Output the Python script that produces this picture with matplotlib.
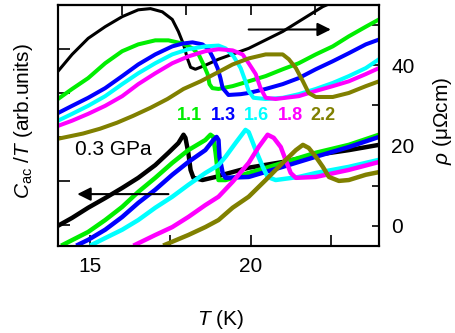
import numpy as np
import matplotlib
matplotlib.use("Agg")
import matplotlib.pyplot as plt

plt.rcParams['font.family'] = ['Liberation Sans', 'DejaVu Sans']
plt.rcParams['mathtext.fontset'] = 'custom'
plt.rcParams['mathtext.rm'] = 'Liberation Sans'
plt.rcParams['mathtext.it'] = 'Liberation Sans:italic'

# pressures (GPa) and colours
pressures = ['0.3', '1.1', '1.3', '1.6', '1.8', '2.2']
colors = ['black', '#00ee00', '#0000ff', '#00ffff', '#ff00ff', '#808000']

# resistivity rho(T) in uOhm cm (right axis)
t_rho_03 = [14.0, 14.44, 14.94, 15.47, 16.0, 16.5, 16.88, 17.25, 17.56, 17.75, 17.91, 18.03, 18.13,
            18.28, 18.59, 19.0, 19.94, 21.0, 22.25, 22.8]
rho_03 = [38.5, 42.7, 46.7, 49.6, 52.1, 53.8, 54.1, 53.3, 51.4, 48.4, 45.2, 41.7, 39.5,
          39.0, 40.0, 41.5, 44.2, 48.4, 54.6, 56.5]
t_rho_11 = [14.0, 14.44, 14.94, 15.47, 16.0, 16.5, 17.03, 17.44, 17.88, 18.19, 18.38, 18.53, 18.66,
            18.72, 18.81, 19.0, 19.44, 19.94, 20.47, 21.0, 21.5, 22.03, 22.56, 23.06, 23.59, 24.0]
rho_11 = [31.6, 34.1, 36.8, 40.5, 43.5, 45.2, 46.2, 46.2, 45.4, 44.2, 42.7, 40.2, 37.8,
          35.3, 34.3, 34.1, 34.8, 36.0, 37.3, 39.0, 40.5, 42.7, 44.7, 47.2, 49.6, 51.4]
t_rho_13 = [14.0, 14.44, 14.94, 15.47, 16.0, 16.5, 17.03, 17.56, 17.88, 18.19, 18.5, 18.69, 18.84,
            18.97, 19.06, 19.13, 19.31, 19.69, 19.94, 20.47, 21.0, 21.5, 22.03, 22.56, 23.06, 23.59, 24.0]
rho_13 = [28.1, 29.9, 31.9, 34.3, 37.3, 40.2, 42.7, 44.7, 45.4, 45.7, 45.2, 44.0, 41.7,
          39.3, 36.8, 34.3, 32.6, 32.8, 33.1, 34.1, 35.3, 36.8, 39.0, 41.0, 43.0, 45.2, 46.4]
t_rho_16 = [14.0, 14.44, 14.94, 15.47, 16.0, 16.5, 17.03, 17.56, 18.06, 18.59, 19.0, 19.22, 19.47,
            19.69, 19.84, 19.94, 20.09, 20.47, 21.0, 21.5, 22.03, 22.56, 23.06, 23.59, 24.0]
rho_16 = [26.2, 27.9, 29.9, 32.3, 35.3, 38.0, 40.5, 42.7, 44.0, 44.7, 44.9, 44.2, 42.2,
          39.3, 36.0, 33.6, 31.9, 31.6, 31.9, 32.8, 34.1, 35.6, 37.3, 39.3, 41.5]
t_rho_18 = [14.0, 14.44, 14.94, 15.47, 16.0, 16.5, 17.03, 17.56, 18.06, 18.59, 19.0, 19.44, 19.75,
            19.94, 20.16, 20.31, 20.47, 20.78, 21.5, 22.03, 22.56, 23.06, 23.59, 24.0]
rho_18 = [24.9, 26.2, 27.9, 29.9, 32.3, 35.3, 38.0, 40.5, 42.2, 43.5, 44.0, 43.7, 42.7,
          40.5, 37.8, 34.3, 31.9, 31.6, 32.3, 33.6, 34.8, 36.0, 37.8, 39.3]
t_rho_22 = [14.0, 14.78, 15.31, 15.84, 16.34, 16.88, 17.41, 17.91, 18.44, 18.97, 19.44, 19.94, 20.47,
            21.0, 21.19, 21.41, 21.63, 21.81, 22.03, 22.56, 23.06, 23.59, 24.0]
rho_22 = [21.7, 23.0, 24.2, 25.7, 27.4, 29.4, 31.6, 34.1, 36.0, 38.2, 40.2, 41.7, 42.7,
          42.7, 41.5, 39.3, 36.0, 33.1, 32.1, 32.1, 33.1, 34.8, 36.0]

# ac specific heat C_ac/T (arb. units, left axis)
t_c_03 = [14.0, 14.44, 14.94, 15.47, 16.0, 16.5, 17.03, 17.44, 17.75, 17.91, 17.97, 18.06, 18.13,
          18.22, 18.5, 18.91, 19.13, 19.94, 21.0, 22.03, 23.06, 24.0]
c_03 = [-0.02, 0.16, 0.39, 0.61, 0.84, 1.07, 1.36, 1.64, 1.86, 2.05, 1.98, 1.64, 1.25,
        1.07, 1.02, 1.09, 1.14, 1.30, 1.43, 1.59, 1.70, 1.82]
t_c_11 = [14.16, 14.94, 15.47, 16.0, 16.5, 17.03, 17.56, 18.06, 18.59, 18.75, 18.84, 18.91, 18.97,
          19.0, 19.22, 19.94, 21.0, 22.03, 23.06, 24.0]
c_11 = [-0.45, -0.16, 0.11, 0.41, 0.75, 1.07, 1.41, 1.70, 1.93, 2.05, 2.0, 1.64, 1.25,
        1.02, 1.02, 1.18, 1.41, 1.64, 1.82, 2.05]
t_c_13 = [14.63, 14.94, 15.47, 16.0, 16.5, 17.03, 17.56, 18.06, 18.59, 18.84, 18.94, 19.0, 19.03,
          19.13, 19.22, 19.94, 21.0, 22.03, 23.06, 24.0]
c_13 = [-0.45, -0.34, -0.11, 0.18, 0.5, 0.8, 1.14, 1.43, 1.70, 1.93, 2.0, 1.93, 1.55,
        1.18, 1.07, 1.09, 1.32, 1.55, 1.77, 2.0]
t_c_16 = [15.06, 15.47, 16.0, 16.5, 17.03, 17.56, 18.06, 18.59, 19.0, 19.22, 19.53, 19.84, 19.94,
          20.16, 20.38, 20.53, 20.78, 21.5, 22.03, 23.06, 24.0]
c_16 = [-0.45, -0.30, -0.11, 0.11, 0.39, 0.64, 0.91, 1.18, 1.36, 1.55, 1.86, 2.16, 2.11,
        1.70, 1.32, 1.09, 1.02, 1.09, 1.18, 1.32, 1.48]
t_c_18 = [16.41, 17.03, 17.56, 18.06, 18.59, 19.0, 19.44, 19.94, 20.25, 20.53, 20.72, 20.94, 21.09,
          21.25, 21.41, 22.03, 23.06, 24.0]
c_18 = [-0.45, -0.23, -0.05, 0.18, 0.45, 0.64, 0.98, 1.41, 1.77, 2.05, 1.98, 1.77, 1.48,
        1.18, 1.07, 1.09, 1.25, 1.43]
t_c_22 = [17.34, 18.06, 18.59, 19.0, 19.44, 19.94, 20.47, 21.0, 21.41, 21.63, 21.81, 22.03, 22.25,
          22.44, 22.75, 23.06, 23.59, 24.0]
c_22 = [-0.45, -0.23, -0.05, 0.11, 0.39, 0.64, 1.02, 1.41, 1.70, 1.82, 1.75, 1.55, 1.32,
        1.09, 1.0, 1.02, 1.14, 1.20]

rho_sets = [(t_rho_03, rho_03), (t_rho_11, rho_11), (t_rho_13, rho_13),
            (t_rho_16, rho_16), (t_rho_18, rho_18), (t_rho_22, rho_22)]
c_sets = [(t_c_03, c_03), (t_c_11, c_11), (t_c_13, c_13),
          (t_c_16, c_16), (t_c_18, c_18), (t_c_22, c_22)]

label_t = [18.09, 19.14, 20.17, 21.23, 22.25]

fig = plt.figure(figsize=(4.55, 3.33), dpi=100)
ax = fig.add_axes([58 / 455, 87 / 333, 321 / 455, 241 / 333])
ax2 = ax.twinx()

for (t, c), col in zip(c_sets, colors):
    ax.plot(t, c, color=col, lw=3.2, solid_joinstyle='round')
for (t, r), col in zip(rho_sets, colors):
    ax2.plot(t, r, color=col, lw=2.2 if col == 'black' else 2.9, solid_joinstyle='round')

ax.set_xlim(14, 24)
ax.set_ylim(-0.48, 5.0)
ax2.set_ylim(-5, 55)

ax.set_xticks([15, 17.5, 20, 22.5])
ax.set_xticklabels(['15', '', '20', ''])
ax.set_yticks([0, 1, 2, 3, 4])
ax.set_yticklabels([])
ax2.set_yticks([0, 10, 20, 30, 40, 50])
ax2.set_yticklabels(['0', '', '20', '', '40', ''])

top = ax.secondary_xaxis('top')
top.set_xticks([16, 18, 20, 22])
top.set_xticklabels([])
top.tick_params(direction='in', length=7, width=1.2)

ax.tick_params(axis='x', direction='in', length=8, width=1.2, labelsize=15, pad=8)
ax.tick_params(axis='y', direction='in', length=8.5, width=1.2)
ax2.tick_params(axis='y', direction='in', length=5, width=1.2, labelsize=15, pad=9)

for a in (ax, ax2, top):
    for s in a.spines.values():
        s.set_linewidth(1.5)

ax.set_xlabel(r'$T$ (K)', fontsize=15, va='center')
ax.xaxis.set_label_coords(0.505, -0.307)
ax.set_ylabel(r'$C_{\rm ac}$ /$T$ (arb.units)', fontsize=15, va='center')
ax.yaxis.set_label_coords(-0.109, 0.519)
ax2.set_ylabel(r'$\rho$ (μΩcm)', fontsize=15, va='center')
ax2.yaxis.set_label_coords(1.199, 0.519)

ax.text(15.73, 1.71, '0.3 GPa', fontsize=15, ha='center', va='center')
for lab, tx, col in zip(pressures[1:], label_t, colors[1:]):
    ax.text(tx, 2.48, lab, color=col, fontsize=13, fontweight='bold', ha='center', va='center')

ax.annotate('', xy=(14.6, 0.70), xytext=(17.44, 0.70),
            arrowprops=dict(arrowstyle='-|>', color='black', lw=1.5, mutation_scale=20,
                            shrinkA=0, shrinkB=0))
ax2.annotate('', xy=(22.5, 48.9), xytext=(19.94, 48.9),
             arrowprops=dict(arrowstyle='-|>', color='black', lw=1.5, mutation_scale=20,
                             shrinkA=0, shrinkB=0))

fig.savefig('out.png', dpi=100)
